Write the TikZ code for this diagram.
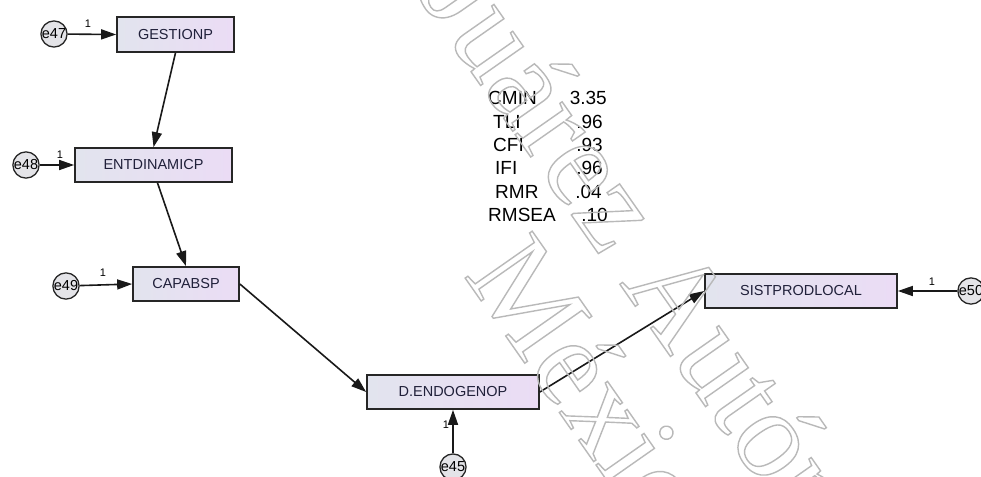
\documentclass[tikz,border=0pt]{standalone}
\usepackage{fontspec}
\setmainfont{Liberation Sans}
\newfontfamily\wmfont{Liberation Serif}
\usetikzlibrary{arrows.meta}
\definecolor{boxL}{HTML}{E2E4EE}
\definecolor{boxR}{HTML}{EBDCF5}
\definecolor{txt}{HTML}{20203A}
\definecolor{errfill}{HTML}{E4E4E8}
\begin{document}
\begin{tikzpicture}[x=1pt,y=-1pt,
  varbox/.style={draw=black!85, line width=1.7pt, left color=boxL, right color=boxR,
    minimum height=34pt, inner sep=0pt, font=\fontsize{14.5}{16}\selectfont, text=txt},
  errc/.style={circle, draw=black!85, line width=1.3pt, fill=errfill, minimum size=24pt,
    inner sep=0pt, font=\fontsize{14.5}{16}\selectfont},
  conn/.style={-{Triangle[length=15pt,width=10pt]}, line width=1.6pt, black!90},
  onelab/.style={font=\fontsize{11}{12}\selectfont, inner sep=0pt},
  stat/.style={font=\fontsize{19}{20}\selectfont, inner sep=0pt},
  wm/.style={font=\wmfont\fontsize{125}{125}\selectfont, inner sep=0pt, text=gray!55, anchor=base west, rotate=-55}]
\useasboundingbox (0,0) rectangle (981,476);
\clip (0,0) rectangle (981,476);
\fill[white] (0,0) rectangle (981,476);
% variables
\node[varbox, minimum width=117pt, minimum height=35pt] (G) at (175.5,34.5) {GESTIONP};
\node[varbox, minimum width=157pt] (E) at (153.5,165) {ENTDINAMICP};
\node[varbox, minimum width=106pt] (C) at (186,284) {CAPABSP};
\node[varbox, minimum width=172pt] (D) at (453,392) {D.ENDOGENOP};
\node[varbox, minimum width=192pt] (S) at (801,291) {SISTPRODLOCAL};
% errors
\node[errc] (e47) at (54,34) {e47};
\node[errc] (e48) at (26,165) {e48};
\node[errc] (e49) at (66,286) {e49};
\node[errc] (e45) at (453,467) {e45};
\node[errc] (e50) at (971,291) {e50};
% connectors
\draw[conn] (e47) -- (G.west);
\draw[conn] (e48) -- (E.west);
\draw[conn] (e49) -- (C.west);
\draw[conn] (e45) -- (D.south);
\draw[conn] (e50) -- (S.east);
\draw[conn] (G.south) -- (E.north);
\draw[conn] ([xshift=4pt]E.south) -- (C.north);
\draw[conn] (C.east) -- (D.west);
\draw[conn] (D.east) -- (S.west);
% weights
\node[onelab] (w47) at (88,24) {1};
\node[onelab] (w48) at (60,155) {1};
\node[onelab] (w49) at (103,273) {1};
\node[onelab] (w45) at (446,425) {1};
\node[onelab] (w50) at (932,282) {1};
% fit statistics
\node[stat, anchor=west] (l1) at (488,98) {CMIN};
\node[stat, anchor=west] (l2) at (493,122) {TLI};
\node[stat, anchor=west] (l3) at (493,145) {CFI};
\node[stat, anchor=west] (l4) at (495,168) {IFI};
\node[stat, anchor=west] (l5) at (495,192) {RMR};
\node[stat, anchor=west] (l6) at (488,215) {RMSEA};
\node[stat, anchor=east] (v1) at (607,98) {3.35};
\node[stat, anchor=east] (v2) at (603,122) {.96};
\node[stat, anchor=east] (v3) at (603,145) {.93};
\node[stat, anchor=east] (v4) at (603,168) {.96};
\node[stat, anchor=east] (v5) at (602,192) {.04};
\node[stat, anchor=east] (v6) at (608,215) {.10};
% watermark
\node[wm] (wm1) at (418,-4) {\special{pdf:literal direct 1 Tr 1.4 w}Juárez Autónoma\special{pdf:literal direct 0 Tr}};
\node[wm] (wm2) at (463,275) {\special{pdf:literal direct 1 Tr 1.4 w}México\special{pdf:literal direct 0 Tr}};
\end{tikzpicture}
\end{document}
